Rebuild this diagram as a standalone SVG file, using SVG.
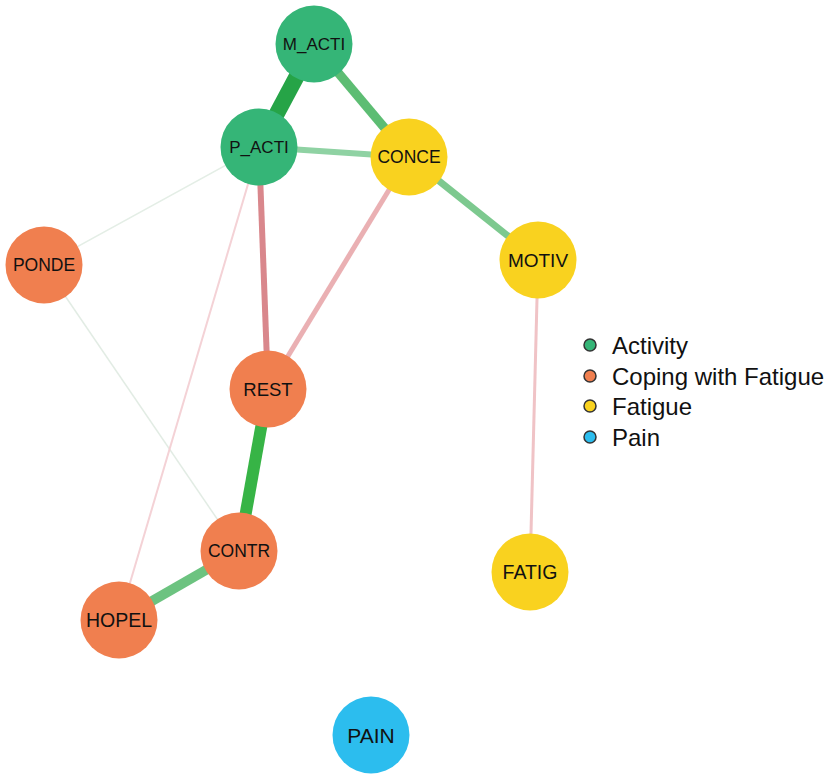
<svg xmlns="http://www.w3.org/2000/svg" width="838" height="776" viewBox="0 0 838 776">
<style>
text{font-family:"Liberation Sans",Arial,sans-serif;fill:#111111;}
.lbl{text-anchor:middle;dominant-baseline:central;}
.act{fill:#35b577;}
.cop{fill:#f07f4f;}
.fat{fill:#f9d21f;}
.pain{fill:#2cbdee;}
.leg circle{stroke:#333;stroke-width:1.5;}
.leg text{font-size:24px;dominant-baseline:central;}
line{stroke-linecap:butt;}
</style>
<rect width="838" height="776" fill="#ffffff"/>
<g id="edges">
<line x1="259" y1="147" x2="44" y2="265" stroke="#e4eee6" stroke-width="1.5"/>
<line x1="44" y1="265" x2="239" y2="551" stroke="#e2ece4" stroke-width="1.5"/>
<line x1="259" y1="147" x2="119" y2="620" stroke="#f4d2d6" stroke-width="2"/>
<line x1="538" y1="260" x2="530" y2="572" stroke="#f0c3c6" stroke-width="3"/>
<line x1="409" y1="157" x2="268" y2="389" stroke="#eab0b3" stroke-width="5"/>
<line x1="259" y1="147" x2="268" y2="389" stroke="#d9878c" stroke-width="6"/>
<line x1="259" y1="147" x2="409" y2="157" stroke="#8fd2a3" stroke-width="6"/>
<line x1="409" y1="157" x2="538" y2="260" stroke="#7dc98f" stroke-width="7"/>
<line x1="314" y1="44" x2="409" y2="157" stroke="#5dbd73" stroke-width="9"/>
<line x1="314" y1="44" x2="259" y2="147" stroke="#26a447" stroke-width="16"/>
<line x1="268" y1="389" x2="239" y2="551" stroke="#37b446" stroke-width="12"/>
<line x1="239" y1="551" x2="119" y2="620" stroke="#6cc380" stroke-width="10"/>
</g>
<g id="M_ACTI"><circle class="act" cx="314" cy="44" r="38.5"/><text class="lbl" x="314" y="44" font-size="17">M_ACTI</text></g>
<g id="P_ACTI"><circle class="act" cx="259" cy="147" r="38.5"/><text class="lbl" x="259" y="147" font-size="17">P_ACTI</text></g>
<g id="CONCE"><circle class="fat" cx="409" cy="157" r="38.5"/><text class="lbl" x="409" y="157" font-size="17.5">CONCE</text></g>
<g id="PONDE"><circle class="cop" cx="44" cy="265" r="38.5"/><text class="lbl" x="44" y="265" font-size="17.5">PONDE</text></g>
<g id="MOTIV"><circle class="fat" cx="538" cy="260" r="38.5"/><text class="lbl" x="538" y="260" font-size="19">MOTIV</text></g>
<g id="REST"><circle class="cop" cx="268" cy="389" r="38.5"/><text class="lbl" x="268" y="389" font-size="18.5">REST</text></g>
<g id="CONTR"><circle class="cop" cx="239" cy="551" r="38.5"/><text class="lbl" x="239" y="551" font-size="17.5">CONTR</text></g>
<g id="HOPEL"><circle class="cop" cx="119" cy="620" r="38.5"/><text class="lbl" x="119" y="620" font-size="19.5">HOPEL</text></g>
<g id="FATIG"><circle class="fat" cx="530" cy="572" r="38.5"/><text class="lbl" x="530" y="572" font-size="19.5">FATIG</text></g>
<g id="PAIN"><circle class="pain" cx="371" cy="735" r="38.5"/><text class="lbl" x="371" y="735" font-size="21">PAIN</text></g>
<g id="legend" class="leg">
<circle class="act" cx="590" cy="345" r="6"/><text x="612" y="345">Activity</text>
<circle class="cop" cx="590" cy="376" r="6"/><text x="612" y="376">Coping with Fatigue</text>
<circle class="fat" cx="590" cy="406" r="6"/><text x="612" y="406">Fatigue</text>
<circle class="pain" cx="590" cy="437" r="6"/><text x="612" y="437">Pain</text>
</g>
</svg>
